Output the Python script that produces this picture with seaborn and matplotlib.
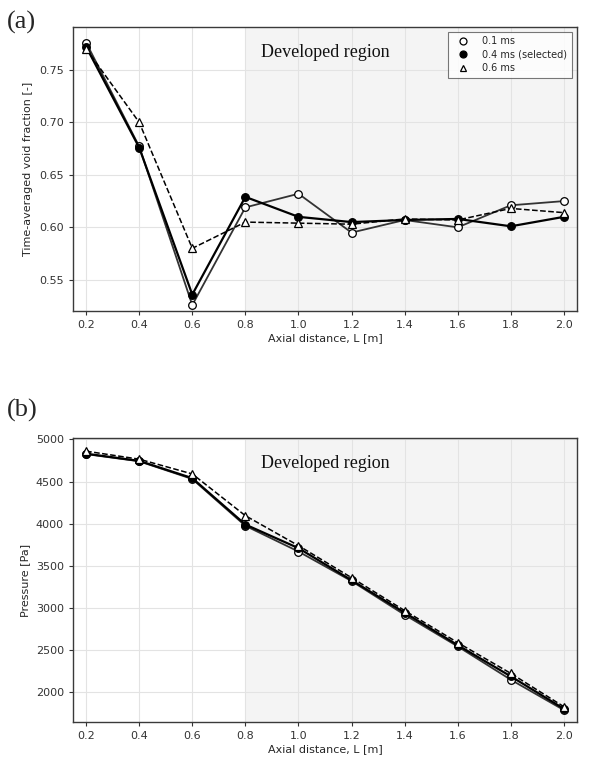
import numpy as np
import pandas as pd
import matplotlib
matplotlib.use("Agg")
import matplotlib.pyplot as plt
import seaborn as sns
from matplotlib.lines import Line2D

L = [0.2, 0.4, 0.6, 0.8, 1.0, 1.2, 1.4, 1.6, 1.8, 2.0]
series = ["0.1 ms", "0.4 ms (selected)", "0.6 ms"]

void_01 = [0.776, 0.677, 0.526, 0.619, 0.632, 0.595, 0.607, 0.600, 0.621, 0.625]
void_04 = [0.772, 0.676, 0.536, 0.629, 0.610, 0.605, 0.607, 0.608, 0.601, 0.610]
void_06 = [0.770, 0.700, 0.580, 0.605, 0.604, 0.603, 0.608, 0.607, 0.618, 0.614]

pres_01 = [4825, 4740, 4530, 3975, 3670, 3320, 2920, 2545, 2150, 1790]
pres_04 = [4830, 4745, 4540, 3990, 3710, 3330, 2945, 2560, 2190, 1805]
pres_06 = [4860, 4765, 4590, 4095, 3740, 3360, 2970, 2590, 2225, 1830]

sns.set_style("ticks")
plt.rcParams['font.family'] = ['DejaVu Sans']

fig = plt.figure(figsize=(5.92, 7.65), dpi=100)
ax1 = fig.add_axes([0.123, 0.593, 0.852, 0.372])
ax2 = fig.add_axes([0.123, 0.056, 0.852, 0.371])

styles = {
    "0.1 ms": dict(color="#333333", marker="o", mfc="white", linestyle="-", lw=1.3),
    "0.4 ms (selected)": dict(color="black", marker="o", mfc="black", linestyle="-", lw=1.6),
    "0.6 ms": dict(color="black", marker="^", mfc="white", linestyle="--", lw=1.1),
}

def draw(ax, vals, ylabel):
    ax.axvspan(0.8, 2.05, color="#f4f4f4", zorder=0, lw=0)
    for name, v in zip(series, vals):
        st = styles[name]
        sns.lineplot(x=L, y=v, ax=ax, color=st["color"], linestyle=st["linestyle"],
                     linewidth=st["lw"], marker=st["marker"], markersize=5.5,
                     markerfacecolor=st["mfc"], markeredgecolor="black",
                     markeredgewidth=0.9, zorder=3)
    ax.set_xlim(0.15, 2.05)
    ax.set_xticks(L)
    ax.set_xticklabels([f"{x:.1f}" for x in L])
    ax.grid(True, color="#e3e3e3", lw=0.8, zorder=1)
    ax.set_axisbelow(True)
    ax.set_xlabel("Axial distance, L [m]", fontsize=8, labelpad=2)
    ax.set_ylabel(ylabel, fontsize=8)
    ax.tick_params(labelsize=8, length=3, colors="#333333")
    for s in ax.spines.values():
        s.set_color("#3a3a3a")
        s.set_linewidth(1.0)
    ax.text((1.1 - 0.15) / 1.9, 0.91, "Developed region", transform=ax.transAxes,
            fontsize=13, family="Liberation Serif", ha="center", va="center", color="#111111")

draw(ax1, [void_01, void_04, void_06], "Time-averaged void fraction [-]")
ax1.set_ylim(0.52, 0.791)
ax1.set_yticks([0.55, 0.60, 0.65, 0.70, 0.75])
ax1.set_yticklabels(["0.55", "0.60", "0.65", "0.70", "0.75"])

draw(ax2, [pres_01, pres_04, pres_06], "Pressure [Pa]")
ax2.set_ylim(1647, 5012)
ax2.set_yticks([2000, 2500, 3000, 3500, 4000, 4500, 5000])

handles = [Line2D([], [], linestyle="none", marker=styles[n]["marker"], markersize=5,
                  markerfacecolor=styles[n]["mfc"], markeredgecolor="black", markeredgewidth=0.9)
           for n in series]
leg = ax1.legend(handles, series, loc="upper right", fontsize=7, frameon=True,
                 fancybox=False, edgecolor="#555555", borderpad=0.5, handletextpad=1.0,
                 labelspacing=0.35)
leg.get_frame().set_linewidth(0.8)

fig.text(0.012, 0.971, "(a)", fontsize=19, family="Liberation Serif", va="center")
fig.text(0.012, 0.464, "(b)", fontsize=19, family="Liberation Serif", va="center")

fig.savefig("out.png", dpi=100)
